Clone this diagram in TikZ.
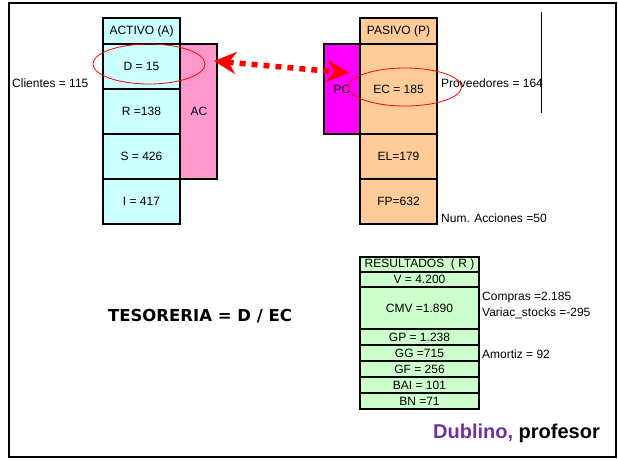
\documentclass[tikz,border=0pt]{standalone}
\usepackage{fontspec}
\setmainfont{Liberation Sans}
\newfontfamily\tesfont{DejaVu Sans}
\usetikzlibrary{arrows.meta}
\definecolor{actfill}{HTML}{CCFFFF}
\definecolor{pasfill}{HTML}{FFCC99}
\definecolor{acfill}{HTML}{FF99CC}
\definecolor{pcfill}{HTML}{FF00FF}
\definecolor{resfill}{HTML}{CCFFCC}
\definecolor{dubl}{HTML}{7030A0}
\tikzset{
  txt/.style={font=\fontsize{12}{14}\selectfont},
  cell/.style={txt, draw=black, line width=1.2pt, inner sep=0pt, rectangle},
  lbl/.style={txt, inner sep=0pt, anchor=west},
  ring/.style={draw=red, line width=0.8pt},
  bigarrow/.style={draw=red, line width=5.5pt, dash pattern=on 6pt off 6pt,
    {Stealth[length=22pt,width=22pt,inset=7pt]}-{Stealth[length=22pt,width=22pt,inset=7pt]}}
}
\begin{document}
\begin{tikzpicture}[x=1pt,y=-1pt]
\useasboundingbox (0,0) rectangle (618,459);
\draw[line width=2pt] (9,3) rectangle (616,457);

% ACTIVO side
\node[cell, fill=acfill, minimum width=37pt, minimum height=135pt] (ac) at (198.5,111.5) {};
\node[txt] (actext) at (199,111.5) {AC};
\node[cell, fill=actfill, minimum width=77pt, minimum height=26pt] (acth) at (141.5,31) {ACTIVO (A)};
\node[cell, fill=actfill, minimum width=77pt, minimum height=45pt] (d) at (141.5,66.5) {D = 15};
\node[cell, fill=actfill, minimum width=77pt, minimum height=45pt] (r) at (141.5,111.5) {R =138};
\node[cell, fill=actfill, minimum width=77pt, minimum height=45pt] (s) at (141.5,156.5) {S = 426};
\node[cell, fill=actfill, minimum width=77pt, minimum height=45pt] (i) at (141.5,201.5) {I = 417};
\node[lbl] (cli) at (12,83) {Clientes = 115};
\draw[ring] (149,64) ellipse [x radius=56pt, y radius=20pt];

% PASIVO side
\node[cell, fill=pcfill, minimum width=36pt, minimum height=90pt] (pc) at (342,89) {};
\node[txt] (pctext) at (342,89) {PC};
\node[cell, fill=pasfill, minimum width=77pt, minimum height=26pt] (pash) at (398.5,31) {PASIVO (P)};
\node[cell, fill=pasfill, minimum width=77pt, minimum height=90pt] (ec) at (398.5,89) {EC = 185};
\node[cell, fill=pasfill, minimum width=77pt, minimum height=45pt] (el) at (398.5,156.5) {EL=179};
\node[cell, fill=pasfill, minimum width=77pt, minimum height=45pt] (fp) at (398.5,201.5) {FP=632};
\draw[ring] (405,87) ellipse [x radius=56.5pt, y radius=19pt];
\node[lbl] (prov) at (441,83) {Proveedores = 164};
\coordinate (vtop) at (541,12);
\coordinate (vbot) at (541,113);
\draw[line width=0.8pt] (vtop) -- (vbot);
\node[lbl] (numacc) at (441,218) {Num. Acciones =50};

% arrow
\coordinate (arrL) at (214,61);
\coordinate (arrR) at (349,73);
\draw[bigarrow] (arrL) -- (arrR);

% RESULTADOS table
\node[cell, fill=resfill, minimum width=119pt, minimum height=15pt] (resh) at (419.5,264.5) {RESULTADOS~~( R )};
\node[cell, fill=resfill, minimum width=119pt, minimum height=15pt] (v) at (419.5,279.5) {V = 4.200};
\node[cell, fill=resfill, minimum width=119pt, minimum height=42pt] (cmv) at (419.5,308) {CMV =1.890};
\node[cell, fill=resfill, minimum width=119pt, minimum height=16pt] (gp) at (419.5,337) {GP = 1.238};
\node[cell, fill=resfill, minimum width=119pt, minimum height=16pt] (gg) at (419.5,353) {GG =715};
\node[cell, fill=resfill, minimum width=119pt, minimum height=16pt] (gf) at (419.5,369) {GF = 256};
\node[cell, fill=resfill, minimum width=119pt, minimum height=16pt] (bai) at (419.5,385) {BAI = 101};
\node[cell, fill=resfill, minimum width=119pt, minimum height=16pt] (bn) at (419.5,401) {BN =71};
\node[lbl] (compras) at (482,298) {Compras =2.185};
\node[lbl] (variac) at (482,313) {Variac\_stocks =-295};
\node[lbl] (amort) at (482,354) {Amortiz = 92};

% formula
\node[font=\tesfont\bfseries\fontsize{16.5}{18}\selectfont, inner sep=0pt] (tes) at (200,316) {TESORERIA = D / EC};

% signature
\node[anchor=west, inner sep=0pt, font=\bfseries\fontsize{20}{22}\selectfont] (sig) at (433,433) {\textcolor{dubl}{Dublino,} profesor};
\end{tikzpicture}
\end{document}
